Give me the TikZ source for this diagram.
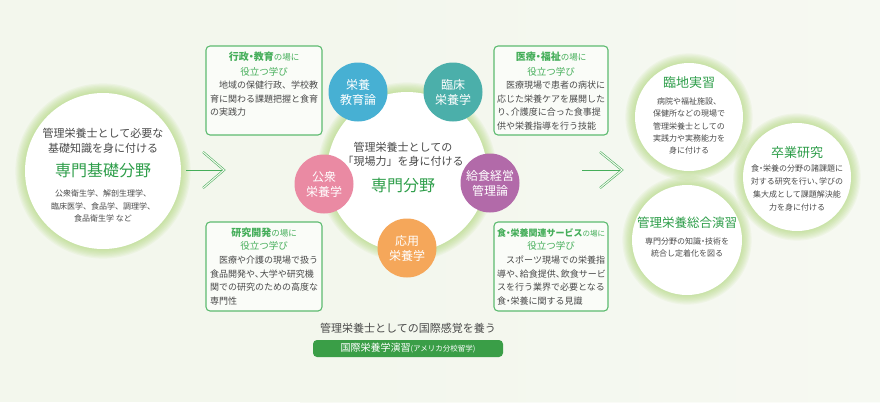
\documentclass[tikz,border=0pt]{standalone}
\usepackage{fontspec}
\setmainfont{Noto Sans CJK JP}
\usetikzlibrary{calc}
\definecolor{bg}{HTML}{F3F7ED}
\definecolor{glow}{HTML}{A9D46E}
\definecolor{tgreen}{HTML}{2E9E4A}
\definecolor{lgreen}{HTML}{45AE5A}
\definecolor{bgreen}{HTML}{5DBB70}
\definecolor{bar}{HTML}{3A9E47}
\definecolor{txt}{HTML}{4A4A4A}
\definecolor{cblue}{HTML}{47B0D3}
\definecolor{cteal}{HTML}{4BAFAA}
\definecolor{cpink}{HTML}{EA8AA3}
\definecolor{cpurple}{HTML}{B26AA9}
\definecolor{corange}{HTML}{F5A75A}
\newcommand{\ndot}{\kern-0.25em・\kern-0.25em}
\newcommand{\ncomma}{、\kern-0.45em}
\tikzset{
  whitec/.style={circle, fill=white, inner sep=0pt},
  smallc/.style={circle, minimum size=59pt, inner sep=0pt, text=white, align=center, font=\fontsize{12}{15}\selectfont},
  infobox/.style={draw=bgreen, line width=1.1pt, rounded corners=4pt, fill=white!60!bg},
  boxtitle/.style={text=lgreen, inner sep=0pt},
  boxsub/.style={text=lgreen, inner sep=0pt, font=\fontsize{9.5}{11}\selectfont},
  boxbody/.style={text=txt, inner sep=0pt, anchor=north west, align=left, font=\fontsize{9}{13.5}\selectfont},
  ctitle/.style={text=tgreen, inner sep=0pt},
  cbody/.style={text=txt, inner sep=0pt, align=center},
  arrowline/.style={draw=lgreen, line width=1pt},
  chevron/.style={draw=lgreen, line width=0.55pt, double=bg, double distance=1.1pt, miter limit=20},
}
\newcommand{\glowaround}[2]{%
  \foreach \i in {1,...,8}{\fill[glow, opacity=0.09] (#1) circle ({#2+\i*1.2pt});}}
\begin{document}
\begin{tikzpicture}[x=1pt,y=-1pt]
\useasboundingbox (0,0) rectangle (880,402);
\fill[bg] (0,0) rectangle (880,402);
\shade[left color=bg, right color=white!50!bg, opacity=0.6] (300,0) rectangle (880,402);

% glows
\glowaround{103,171}{78pt}
\glowaround{407,172}{80pt}
\glowaround{689,117}{54pt}
\glowaround{797,177}{54pt}
\glowaround{687,240}{55pt}

% white circles
\node[whitec, minimum size=156pt] (base) at (103,171) {};
\node[whitec, minimum size=160pt] (core) at (407,172) {};
\node[whitec, minimum size=108pt] (rinchi) at (689,117) {};
\node[whitec, minimum size=108pt] (sotsu) at (797,177) {};
\node[whitec, minimum size=110pt] (sogo) at (687,240) {};

% left circle texts
\node[cbody, font=\fontsize{11}{15}\selectfont] (lc1) at (103,140.5) {管理栄養士として必要な\\基礎知識を身に付ける};
\node[ctitle, font=\fontsize{16}{18}\selectfont] (lc2) at (103,170) {専門基礎分野};
\node[cbody, font=\fontsize{8}{12.5}\selectfont] (lc3) at (103,206) {公衆衛生学、解剖生理学、\\臨床医学、食品学、調理学、\\食品衛生学 など};

% center texts
\node[cbody, font=\fontsize{11}{14}\selectfont] (cc1) at (403,154) {管理栄養士としての\\「現場力」を身に付ける};
\node[ctitle, font=\fontsize{16}{18}\selectfont] (cc2) at (403,185) {専門分野};

% small subject circles
\node[smallc, fill=cblue] (eiyo) at (358,92) {栄養\\教育論};
\node[smallc, fill=cteal] (rinsho) at (453,92) {臨床\\栄養学};
\node[smallc, fill=cpink] (koshu) at (324,184) {公衆\\栄養学};
\node[smallc, fill=cpurple] (kyushoku) at (490,183) {給食経営\\管理論};
\node[smallc, fill=corange] (oyo) at (407,248) {応用\\栄養学};

% info boxes
\draw[infobox] (206,46) rectangle (322,135);
\node[boxtitle] (t1) at (264,57) {{\bfseries\fontsize{10}{12}\selectfont 行政\ndot 教育}{\fontsize{8.5}{12}\selectfont の場に}};
\node[boxsub] (s1) at (264,72) {役立つ学び};
\node[boxbody] (b1) at (210,81) {\hspace*{1em}地域の保健行政、学校教\\育に関わる課題把握と食育\\の実践力};

\draw[infobox] (494,46) rectangle (608,135);
\node[boxtitle] (t2) at (551,57) {{\bfseries\fontsize{10}{12}\selectfont 医療\ndot 福祉}{\fontsize{8.5}{12}\selectfont の場に}};
\node[boxsub] (s2) at (551,72) {役立つ学び};
\node[boxbody] (b2) at (497,81) {\hspace*{1em}医療現場で患者の病状に\\応じた栄養ケアを展開した\\り\ncomma 介護度に合った食事提\\供や栄養指導を行う技能};

\draw[infobox] (206,222) rectangle (322,311);
\node[boxtitle] (t3) at (264,233) {{\bfseries\fontsize{10}{12}\selectfont 研究開発}{\fontsize{8.5}{12}\selectfont の場に}};
\node[boxsub] (s3) at (264,246) {役立つ学び};
\node[boxbody] (b3) at (210,256) {\hspace*{1em}医療や介護の現場で扱う\\食品開発や\ncomma 大学や研究機\\関での研究のための高度な\\専門性};

\draw[infobox] (494,222) rectangle (608,311);
\node[boxtitle] (t4) at (551,233) {{\bfseries\fontsize{9}{12}\selectfont 食\ndot 栄養関連サービス}{\fontsize{7.5}{12}\selectfont の場に}};
\node[boxsub] (s4) at (551,246) {役立つ学び};
\node[boxbody] (b4) at (497,256) {\hspace*{1em}スポーツ現場での栄養指\\導や\ncomma 給食提供\ncomma 飲食サービ\\スを行う業界で必要となる\\食\ndot 栄養に関する見識};

% bottom
\node[text=txt, inner sep=0pt, font=\fontsize{11}{13}\selectfont] (intl) at (408,328) {管理栄養士としての国際感覚を養う};
\node[fill=bar, rounded corners=4pt, minimum width=190pt, minimum height=17pt, inner sep=0pt, text=white] (prog) at (408,348.5)
  {{\fontsize{10}{12}\selectfont 国際栄養学演習}{\fontsize{7.5}{12}\selectfont (アメリカ分校留学)}};

% right circle texts
\node[ctitle, font=\fontsize{13}{15}\selectfont] (rt1) at (689,83) {臨地実習};
\node[cbody, font=\fontsize{8}{12.3}\selectfont] (rb1) at (689,126) {病院や福祉施設、\\保健所などの現場で\\管理栄養士としての\\実践力や実務能力を\\身に付ける};
\node[ctitle, font=\fontsize{13}{15}\selectfont] (rt2) at (797,153) {卒業研究};
\node[cbody, font=\fontsize{8}{13}\selectfont] (rb2) at (797,187.5) {食\ndot 栄養の分野の諸課題に\\対する研究を行い\ncomma 学びの\\集大成として課題解決能\\力を身に付ける};
\node[ctitle, font=\fontsize{12.5}{15}\selectfont] (rt3) at (687,223) {管理栄養総合演習};
\node[cbody, font=\fontsize{8}{11.5}\selectfont] (rb3) at (687,247.5) {専門分野の知識\ndot 技術を\\統合し定着化を図る};

% arrows
\coordinate (a1s) at (186,170);
\coordinate (a1e) at (224,170);
\coordinate (a1u) at (203,152);
\coordinate (a1d) at (203,188);
\draw[arrowline] (a1s) -- (a1e);
\draw[chevron] (a1u) -- (a1e) -- (a1d);
\coordinate (a2s) at (582,170);
\coordinate (a2e) at (622,170);
\coordinate (a2u) at (600,152);
\coordinate (a2d) at (600,188);
\draw[arrowline] (a2s) -- (a2e);
\draw[chevron] (a2u) -- (a2e) -- (a2d);
\end{tikzpicture}
\end{document}
